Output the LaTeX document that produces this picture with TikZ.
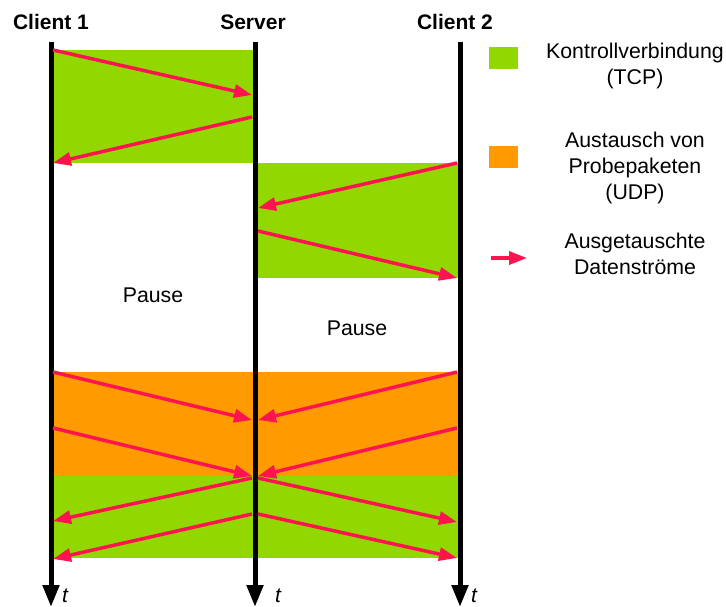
\documentclass[tikz,border=0pt]{standalone}
\usepackage{fontspec}
\setmainfont{Liberation Sans}
\usetikzlibrary{arrows.meta}
\definecolor{tcpgreen}{RGB}{146,216,0}
\definecolor{udporange}{RGB}{255,155,0}
\definecolor{flowred}{RGB}{255,20,80}
\begin{document}
\begin{tikzpicture}[x=1pt,y=-1pt,
  lifeline/.style={line width=5pt,-{Triangle[length=22pt,width=16pt]}},
  flow/.style={flowred,line width=3.5pt,-{Triangle[length=18pt,width=13pt]}},
  txt/.style={font=\fontsize{21.3}{26}\selectfont, inner sep=0pt},
  head/.style={font=\fontsize{21}{26}\selectfont\bfseries, inner sep=0pt, anchor=base},
  tlabel/.style={font=\fontsize{21}{26}\selectfont\itshape, inner sep=0pt, anchor=base},
]
\useasboundingbox (0,0) rectangle (726,607);

% phases: control connections (TCP) and probe exchange (UDP)
\fill[tcpgreen]  (51,50)  rectangle (255,163);
\fill[tcpgreen]  (255,163) rectangle (460,278);
\fill[udporange] (51,372) rectangle (460,476);
\fill[tcpgreen]  (51,476) rectangle (460,558);

% lifelines
\coordinate (c1top) at (51,42);  \coordinate (c1bot) at (51,607);
\coordinate (svtop) at (255,42); \coordinate (svbot) at (255,607);
\coordinate (c2top) at (460,42); \coordinate (c2bot) at (460,607);
\draw[lifeline] (c1top) -- (c1bot);
\draw[lifeline] (svtop) -- (svbot);
\draw[lifeline] (c2top) -- (c2bot);

\node[head] (h1) at (51,30)  {Client 1};
\node[head] (hs) at (253,30) {Server};
\node[head] (h2) at (455,30) {Client 2};

\node[tlabel] (t1) at (65,602)  {t};
\node[tlabel] (ts) at (278,602) {t};
\node[tlabel] (t2) at (474,602) {t};

% message end points
\coordinate (a1) at (53,50);   \coordinate (b1) at (252,95);
\coordinate (a2) at (252,117); \coordinate (b2) at (53,163);
\coordinate (a3) at (457,163); \coordinate (b3) at (258,208);
\coordinate (a4) at (258,231); \coordinate (b4) at (457,278);
\coordinate (a5) at (53,372);  \coordinate (b5) at (252,420);
\coordinate (a6) at (457,372); \coordinate (b6) at (258,420);
\coordinate (a7) at (53,428);  \coordinate (b7) at (252,476);
\coordinate (a8) at (457,428); \coordinate (b8) at (258,476);
\coordinate (a9) at (252,478); \coordinate (b9) at (53,521);
\coordinate (a10) at (258,478); \coordinate (b10) at (457,522);
\coordinate (a11) at (252,514); \coordinate (b11) at (53,559);
\coordinate (a12) at (258,514); \coordinate (b12) at (457,558);
\foreach \i in {1,...,12} { \draw[flow] (a\i) -- (b\i); }

\node[txt, anchor=base] (p1) at (153,302) {Pause};
\node[txt, anchor=base] (p2) at (357,335) {Pause};

% legend
\fill[tcpgreen]  (489,47)  rectangle (518,69);
\fill[udporange] (489,146) rectangle (518,168);
\coordinate (lgs) at (491,258); \coordinate (lge) at (527,258);
\draw[flow] (lgs) -- (lge);

\node[txt, align=center, anchor=north] (l1) at (635,43) {Kontrollverbindung\\(TCP)};
\node[txt, align=center, anchor=north] (l2) at (635,132) {Austausch von\\Probepaketen\\(UDP)};
\node[txt, align=center, anchor=north] (l3) at (635,233) {Ausgetauschte\\Datenströme};
\end{tikzpicture}
\end{document}
